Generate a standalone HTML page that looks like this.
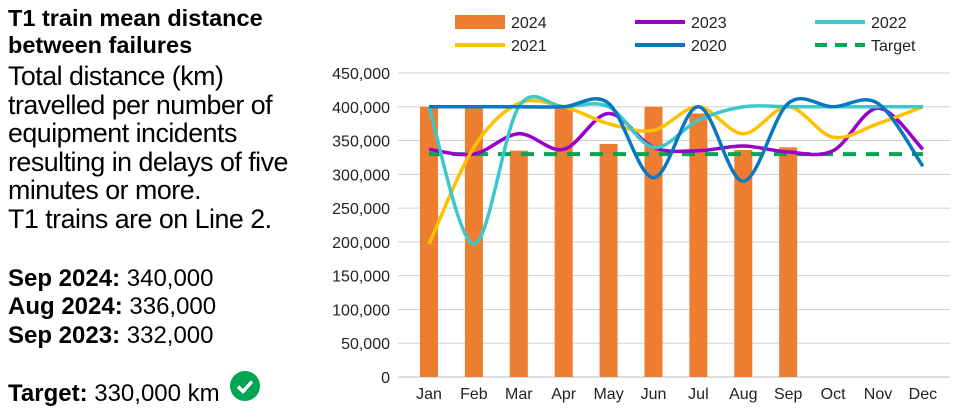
<!DOCTYPE html>
<html><head><meta charset="utf-8"><style>
body{margin:0;width:961px;height:419px;background:#fff;font-family:"Liberation Sans",sans-serif;overflow:hidden;position:relative}
.t{position:absolute;left:8px;font-size:24px;color:#000;white-space:nowrap;line-height:28px}
b{font-weight:bold}
</style></head><body>
<div class="t" style="top:5px;line-height:27px;font-size:23.5px"><b>T1 train mean distance<br>between failures</b></div>
<div class="t" style="top:62px;line-height:28.6px;font-size:26.8px;letter-spacing:-0.5px">Total distance (km)<br>travelled per number of<br>equipment incidents<br>resulting in delays of five<br>minutes or more.<br>T1 trains are on Line 2.</div>
<div class="t" style="top:265px"><b>Sep 2024:</b> 340,000</div>
<div class="t" style="top:293px"><b>Aug 2024:</b> 336,000</div>
<div class="t" style="top:322px"><b>Sep 2023:</b> 332,000</div>
<div class="t" style="top:380px"><b>Target:</b> 330,000 km</div>
<svg style="position:absolute;left:229px;top:370px" width="32" height="32"><circle cx="16" cy="16" r="15" fill="#00a651"/><path d="M9 16.5 L14 21.5 L23 11.5" stroke="#fff" stroke-width="3.5" fill="none"/></svg>
<svg id="c" width="961" height="419" style="position:absolute;left:0;top:0"></svg>
<script>
const months=["Jan","Feb","Mar","Apr","May","Jun","Jul","Aug","Sep","Oct","Nov","Dec"];
const yTicks=[0,50000,100000,150000,200000,250000,300000,350000,400000,450000];
const s2024=[400000,400000,335000,400000,345000,400000,390000,336000,340000];
const s2023=[337000,330000,360000,337000,390000,340000,335000,342000,333000,335000,398000,337000];
const s2022=[400000,197000,400000,400000,400000,340000,380000,400000,400000,400000,400000,400000];
const s2021=[197000,340000,405000,400000,375000,365000,400000,360000,400000,355000,375000,400000];
const s2020=[400000,400000,400000,400000,405000,295000,400000,290000,405000,400000,405000,312000];
const target=330000;
const svg=document.getElementById('c');const NS="http://www.w3.org/2000/svg";
const x0=429,dx=44.9,yb=377,yt=73,ymax=450000;
const X=i=>x0+i*dx, Y=v=>yb-(v/ymax)*(yb-yt);
function mk(t,a,p){const e=document.createElementNS(NS,t);for(const k in a)e.setAttribute(k,a[k]);(p||svg).appendChild(e);return e;}
yTicks.forEach((v,i)=>{
 const g=mk('line',{x1:398,x2:950,y1:Y(v),y2:Y(v),stroke:i==0?'#bbb':'#d0d0d0','stroke-width':1});
 
 
 const t=mk('text',{x:390,y:Y(v)+6,'text-anchor':'end','font-size':16,fill:'#222'});t.textContent=v.toLocaleString('en-US');
 
 
});
months.forEach((m,i)=>{const t=mk('text',{x:X(i),y:399,'text-anchor':'middle','font-size':16,fill:'#222'});t.textContent=m;
 
 });
s2024.forEach((v,i)=>{const r=mk('rect',{x:X(i)-9,y:Y(v),width:18,height:yb-Y(v),fill:'#ed7d31'});
 
 });
function smooth(vals){const p=vals.map((v,i)=>[X(i),Y(v)]);let d=`M${p[0][0]},${p[0][1]}`;
 for(let i=0;i<p.length-1;i++){const a=p[i-1]||p[i],b=p[i],c=p[i+1],e=p[i+2]||c;
  d+=` C${b[0]+(c[0]-a[0])/6},${b[1]+(c[1]-a[1])/6} ${c[0]-(e[0]-b[0])/6},${c[1]-(e[1]-b[1])/6} ${c[0]},${c[1]}`;}return d;}
const series=[[s2023,'#9900cc','line-2023'],[s2021,'#ffc000','line-2021'],[s2022,'#3cc8c8','line-2022'],[s2020,'#0a78c0','line-2020']];
const tl=mk('line',{x1:X(0),x2:X(11),y1:Y(target),y2:Y(target),stroke:'#00a651','stroke-width':4,'stroke-dasharray':'13,10'});


series.forEach(s=>{const p=mk('path',{d:smooth(s[0]),fill:'none',stroke:s[1],'stroke-width':3.5});
 
 });
const leg=[['2024','#ed7d31',455,22,'bar'],['2023','#9900cc',635,22],['2022','#3cc8c8',815,22],['2021','#ffc000',455,45],['2020','#0a78c0',635,45],['Target','#00a651',815,45,'dash']];
leg.forEach(l=>{
 let s;
 if(l[4]=='bar')s=mk('rect',{x:l[2],y:l[3]-7,width:50,height:14,fill:l[1]});
 else s=mk('line',{x1:l[2],x2:l[2]+50,y1:l[3],y2:l[3],stroke:l[1],'stroke-width':4,'stroke-dasharray':l[4]?'12,8':'none'});
 
 
 const t=mk('text',{x:l[2]+56,y:l[3]+6,'font-size':16,fill:'#222'});t.textContent=l[0];
 
 
});
</script>
</body></html>
